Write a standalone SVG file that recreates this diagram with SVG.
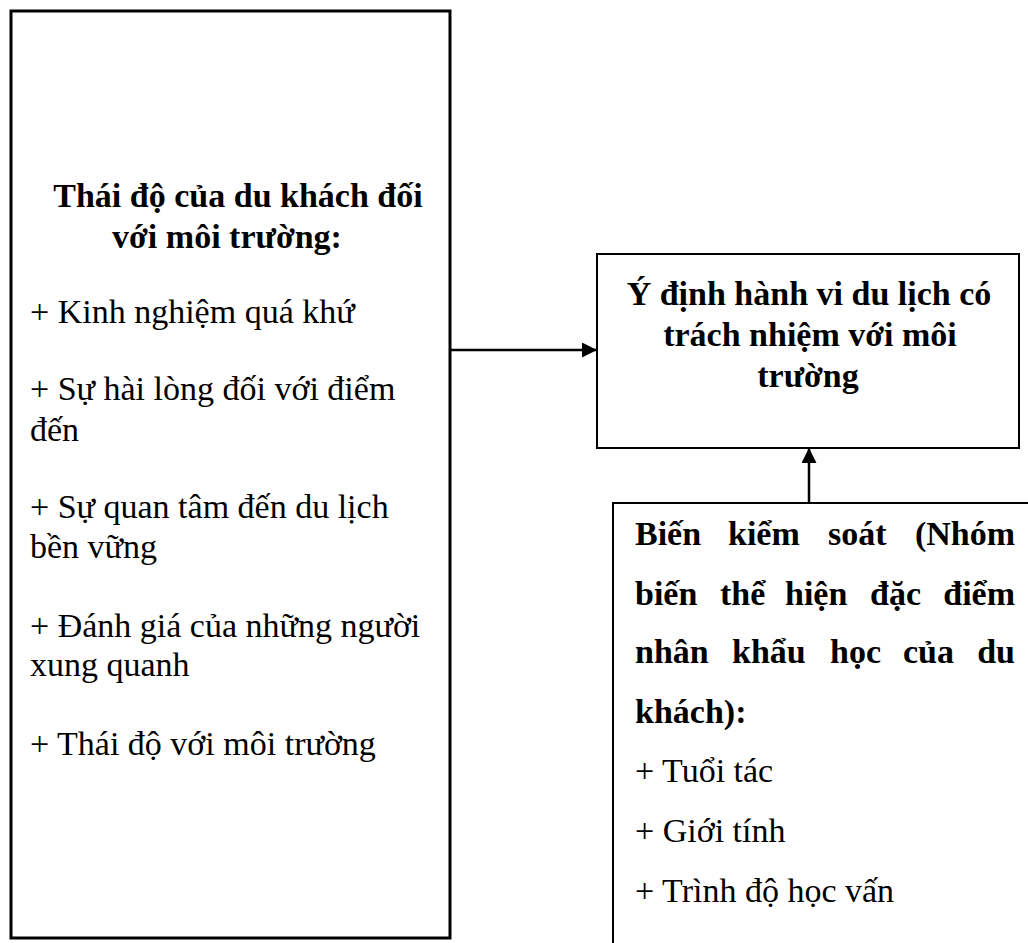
<svg xmlns="http://www.w3.org/2000/svg" width="1028" height="943" viewBox="0 0 1028 943">
<style>
.box{fill:#fff;stroke:#000}
.t{font-family:"Liberation Serif","Times New Roman",serif;font-size:34px;fill:#000}
.b{font-weight:bold}
.c{text-anchor:middle}
.e{text-anchor:end}
.con{stroke:#000;stroke-width:2.5;fill:none}
</style>
<defs>
<marker id="ah" viewBox="0 0 10 10" refX="10" refY="5" markerWidth="6" markerHeight="6" markerUnits="strokeWidth" orient="auto">
<path d="M0,0 L10,5 L0,10 Z" fill="#000"/>
</marker>
</defs>
<rect width="1028" height="943" fill="#fff"/>
<g id="node-attitude">
<rect class="box" x="11" y="11" width="439" height="927" stroke-width="3"/>
<text class="t b c" x="238" y="207">Thái độ của du khách đối</text>
<text class="t b c" x="227" y="248">với môi trường:</text>
<text class="t" x="30" y="323">+ Kinh nghiệm quá khứ</text>
<text class="t" x="30" y="400">+ Sự hài lòng đối với điểm</text>
<text class="t" x="30" y="441">đến</text>
<text class="t" x="30" y="518">+ Sự quan tâm đến du lịch</text>
<text class="t" x="30" y="558">bền vững</text>
<text class="t" x="30" y="637">+ Đánh giá của những người</text>
<text class="t" x="30" y="676">xung quanh</text>
<text class="t" x="30" y="755">+ Thái độ với môi trường</text>
</g>
<g id="node-intention">
<rect class="box" x="597" y="254" width="422" height="194" stroke-width="2"/>
<text class="t b c" x="809" y="305">Ý định hành vi du lịch có</text>
<text class="t b c" x="810" y="346">trách nhiệm với môi</text>
<text class="t b c" x="808" y="387">trường</text>
</g>
<g id="node-control">
<rect class="box" x="613" y="503" width="430" height="460" stroke-width="2"/>
<text class="t b" y="545"><tspan x="635">Biến</tspan><tspan x="728">kiểm</tspan><tspan x="828">soát</tspan></text>
<text class="t b e" x="1015" y="545">(Nhóm</text>
<text class="t b" y="605"><tspan x="635">biến</tspan><tspan x="720">thể</tspan><tspan x="785">hiện</tspan><tspan x="870">đặc</tspan></text>
<text class="t b e" x="1015" y="605">điểm</text>
<text class="t b" y="663"><tspan x="635">nhân</tspan><tspan x="732">khẩu</tspan><tspan x="830">học</tspan><tspan x="903">của</tspan></text>
<text class="t b e" x="1015" y="663">du</text>
<text class="t b" x="635" y="723">khách):</text>
<text class="t" x="635" y="782">+ Tuổi tác</text>
<text class="t" x="635" y="842">+ Giới tính</text>
<text class="t" x="635" y="902">+ Trình độ học vấn</text>
</g>
<g id="connectors">
<line class="con" x1="450" y1="350" x2="597" y2="350" marker-end="url(#ah)"/>
<line class="con" x1="809" y1="503" x2="809" y2="448" marker-end="url(#ah)"/>
</g>
</svg>
